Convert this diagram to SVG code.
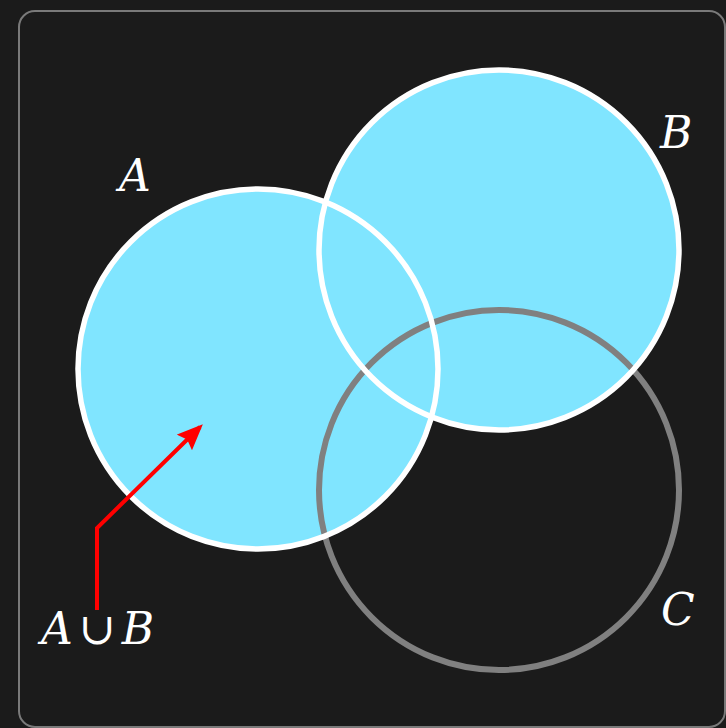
<svg xmlns="http://www.w3.org/2000/svg" width="726" height="728" viewBox="0 0 726 728">
<defs>
<style>
.fill{fill:#80e5ff;stroke:none}
.ws{fill:none;stroke:#ffffff;stroke-width:5.5}
.gs{fill:none;stroke:#808080;stroke-width:6}
text{font-family:'DejaVu Serif','Liberation Serif',serif;font-style:italic;font-size:44px;fill:#ffffff}
.up{font-style:normal}
</style>
<marker id="ah" markerWidth="26" markerHeight="22" refX="22" refY="11" orient="auto" markerUnits="userSpaceOnUse" viewBox="0 0 26 22">
<path d="M0,0 L26,11 L0,22 L4,11 Z" fill="#ff0000"/>
</marker>
</defs>
<rect width="726" height="728" fill="#1b1b1b"/>
<rect x="19" y="11" width="706" height="716" rx="16" fill="none" stroke="#7a7a7a" stroke-width="2"/>
<g id="A-fill"><circle class="fill" cx="258" cy="369" r="180"/></g>
<g id="B-fill"><circle class="fill" cx="499" cy="250" r="180"/></g>
<g id="C"><circle class="gs" cx="499" cy="490" r="180"/></g>
<g id="A"><circle class="ws" cx="258" cy="369" r="180"/><text x="119" y="191">A</text></g>
<g id="B"><circle class="ws" cx="499" cy="250" r="180"/><text x="660" y="148">B</text></g>
<g id="Clabel"><text x="661" y="625">C</text></g>
<g id="label-AuB"><text x="41" y="644" font-size="40">A<tspan class="up" dx="6">∪</tspan><tspan dx="6">B</tspan></text></g>
<g id="connectors">
<polyline points="97,610 97,528 200,427" fill="none" stroke="#ff0000" stroke-width="4" marker-end="url(#ah)"/>
</g>
</svg>
